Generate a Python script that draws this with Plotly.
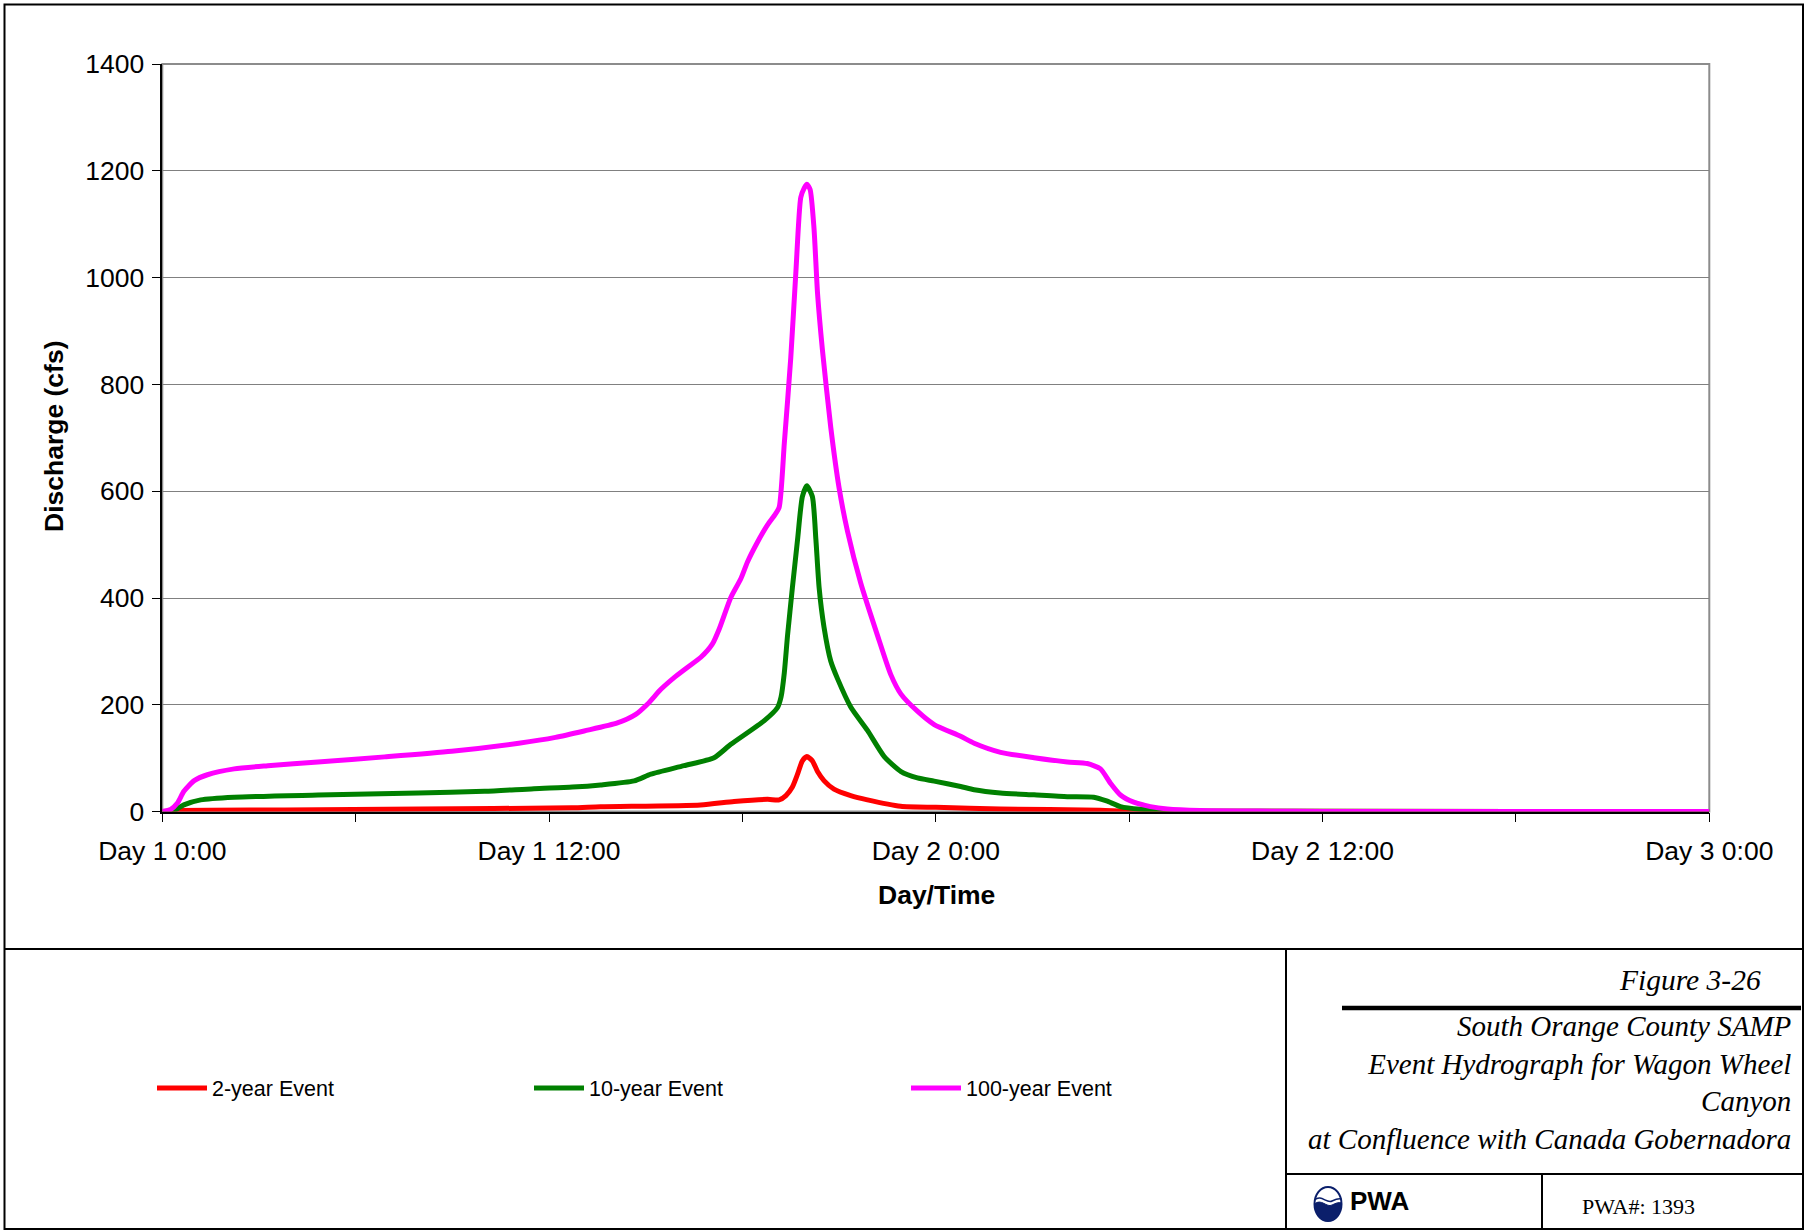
import plotly.graph_objects as go

# ---------------- data (hours from Day 1 0:00, discharge in cfs) ----------------
hours_2yr = [0, 0.5, 3.8, 8, 12.7, 13.6, 16.7, 17.74, 18.78, 19.14, 19.35, 19.55, 19.71,
             19.86, 20.0, 20.17, 20.33, 20.53, 20.84, 21.36, 21.88, 22.91, 24.0, 26.0,
             29.1, 30.1, 48]
flow_2yr = [0, 2, 3, 5, 7, 9, 12.5, 19, 23, 22, 30, 46, 70,
            95, 103, 95, 75, 58, 42, 30, 22, 10, 8, 5,
            2.5, 0.6, 0]

hours_10yr = [0, 0.36, 0.67, 1.19, 2.23, 4.83, 7.94, 10.0, 11.53, 12.72, 13.6, 14.64,
              15.16, 16.19, 17.12, 17.64, 18.67, 19.09, 19.2, 19.3, 19.4, 19.55, 19.71,
              19.86, 20.0, 20.17, 20.28, 20.38, 20.53, 20.74, 20.95, 21.36, 21.88, 22.4,
              22.92, 23.43, 23.95, 24.77, 25.19, 26.0, 27.05, 28.08, 28.9, 29.3, 29.73,
              30.35, 31.18, 31.7, 48]
flow_10yr = [0, 2, 12.6, 22, 27, 31, 35, 38, 43, 46, 50, 57.5,
             70, 86, 101, 126, 170, 195, 215, 260, 330, 419, 509,
             590, 610, 590, 509, 419, 346, 282, 249, 196, 152, 103,
             75, 63, 57, 47, 41, 35, 31.4, 28, 27, 20, 9.4,
             4.4, 2, 0.6, 0]

hours_100yr = [0, 0.26, 0.47, 0.67, 0.99, 1.4, 2.23, 3.27, 4.83, 6.9, 8.98, 11.06, 12.2,
               13.09, 14.12, 14.69, 15.05, 15.47, 15.88, 16.29, 16.71, 17.07, 17.28,
               17.64, 17.95, 18.16, 18.47, 18.78, 19.0, 19.14, 19.3, 19.5, 19.66, 19.81,
               19.92, 20.0, 20.1, 20.22, 20.33, 20.48, 20.74, 21.0, 21.26, 21.67, 22.19,
               22.6, 22.92, 23.43, 23.95, 24.77, 25.19, 26.01, 27.05, 28.08, 28.7, 29.11,
               29.42, 29.73, 30.14, 30.66, 31.18, 32.2, 34, 36, 48]
flow_100yr = [0, 4, 16, 38, 58, 69, 80, 86, 93, 102.5, 113, 128, 139,
              151, 166, 182, 201, 229, 251, 270, 289, 314, 342,
              401, 436, 468, 505, 537, 555, 570, 690, 850, 1012, 1150,
              1168, 1175, 1165, 1093, 971, 866, 720, 606, 525, 428, 330,
              257, 220, 188, 163, 141, 128, 111, 101, 93, 90, 80,
              53, 31, 17.6, 9.4, 5, 2, 1, 0.3, 0]

series_names = ["2-year Event", "10-year Event", "100-year Event"]
series_colors = ["#FF0000", "#008000", "#FF00FF"]

x_tick_hours = [0, 6, 12, 18, 24, 30, 36, 42, 48]
x_tick_labels = ["Day 1 0:00", "", "Day 1 12:00", "", "Day 2 0:00", "", "Day 2 12:00", "", "Day 3 0:00"]
y_tick_values = [0, 200, 400, 600, 800, 1000, 1200, 1400]

# ---------------- figure geometry helpers ----------------
W, H = 1805, 1231


def px(x):
    return x / W


def py(y):
    return 1 - y / H


fig = go.Figure()
for hrs, flw, name, col in zip([hours_2yr, hours_10yr, hours_100yr],
                               [flow_2yr, flow_10yr, flow_100yr],
                               series_names, series_colors):
    fig.add_trace(go.Scatter(x=hrs, y=flw, mode="lines", name=name,
                             line=dict(color=col, width=5, shape="spline", smoothing=0.6)))

SANS = "Liberation Sans, Arial, sans-serif"
SERIF = "Liberation Serif, Times New Roman, serif"

fig.update_layout(
    width=W, height=H, autosize=False,
    margin=dict(l=0, r=0, t=0, b=0, pad=0, autoexpand=False),
    paper_bgcolor="white", plot_bgcolor="white",
    font=dict(family=SANS, color="black"),
    xaxis=dict(domain=[px(162.3), px(1709.3)], range=[0, 48],
               tickmode="array", tickvals=x_tick_hours, ticktext=x_tick_labels,
               ticks="outside", ticklen=9, tickwidth=1, tickcolor="black",
               ticklabelstandoff=6,
               showline=True, linecolor="black", linewidth=1.5,
               showgrid=False, zeroline=False, automargin=False,
               tickfont=dict(family=SANS, size=26.5, color="black")),
    yaxis=dict(domain=[py(811.6), py(64)], range=[0, 1400],
               tickmode="array", tickvals=y_tick_values,
               ticks="outside", ticklen=9, tickwidth=1, tickcolor="black",
               ticklabelstandoff=2,
               showline=True, linecolor="black", linewidth=1.5,
               showgrid=True, gridcolor="#808080", gridwidth=1, zeroline=False,
               automargin=False,
               tickfont=dict(family=SANS, size=26.5, color="black")),
    showlegend=True,
    legend=dict(orientation="h", x=px(152), xanchor="left", y=py(1088), yanchor="middle",
                entrywidth=312, entrywidthmode="pixels",
                font=dict(family=SANS, size=21.5, color="black"),
                bgcolor="rgba(0,0,0,0)", borderwidth=0, itemwidth=50),
)

shapes = []
# plot area border (grey top/right)
shapes.append(dict(type="rect", xref="paper", yref="paper",
                   x0=px(162.3), x1=px(1709.3), y0=py(811.6), y1=py(64),
                   line=dict(color="#8c8c8c", width=2), layer="below"))
# outer frame
shapes.append(dict(type="rect", xref="paper", yref="paper",
                   x0=px(4.5), x1=px(1803), y0=py(1229), y1=py(4.5),
                   line=dict(color="black", width=2)))
# divider lines of the title block
for (x0, y0, x1, y1, w) in [(4.5, 949, 1803, 949, 2),
                            (1286, 949, 1286, 1229, 2),
                            (1286, 1174, 1803, 1174, 2),
                            (1542, 1174, 1542, 1229, 2),
                            (1342, 1008, 1801, 1008, 4.5)]:
    shapes.append(dict(type="line", xref="paper", yref="paper",
                       x0=px(x0), y0=py(y0), x1=px(x1), y1=py(y1),
                       line=dict(color="black", width=w)))

# PWA logo (ellipse with wave)
cx, cy, rx, ry = 1328, 1204, 13.5, 17
navy = "#0b1f6b"
shapes.append(dict(type="circle", xref="paper", yref="paper",
                   x0=px(cx - rx), x1=px(cx + rx), y0=py(cy + ry), y1=py(cy - ry),
                   line=dict(color=navy, width=2)))
k = 0.5523


def P(x, y):
    return f"{px(x):.6f},{py(y):.6f}"


path = (f"M{P(cx - rx, cy)} "
        f"C{P(cx - rx * 0.5, cy - 6)} {P(cx - rx * 0.1, cy + 4)} {P(cx + rx * 0.3, cy + 1)} "
        f"C{P(cx + rx * 0.6, cy - 1)} {P(cx + rx * 0.8, cy - 2)} {P(cx + rx, cy - 1)} "
        f"C{P(cx + rx, cy + k * ry)} {P(cx + k * rx, cy + ry)} {P(cx, cy + ry)} "
        f"C{P(cx - k * rx, cy + ry)} {P(cx - rx, cy + k * ry)} {P(cx - rx, cy)} Z")
shapes.append(dict(type="path", xref="paper", yref="paper", path=path,
                   fillcolor=navy, line=dict(color=navy, width=1)))
wave = (f"M{P(cx - rx, cy - 4)} "
        f"C{P(cx - rx * 0.5, cy - 10)} {P(cx - rx * 0.1, cy)} {P(cx + rx * 0.3, cy - 3)} "
        f"C{P(cx + rx * 0.6, cy - 5)} {P(cx + rx * 0.8, cy - 6)} {P(cx + rx, cy - 5)}")
shapes.append(dict(type="path", xref="paper", yref="paper", path=wave,
                   line=dict(color=navy, width=1.5)))
fig.update_layout(shapes=shapes)

annotations = [
    dict(text="<b>Discharge (cfs)</b>", x=px(54), y=py(437), textangle=-90,
         font=dict(family=SANS, size=26.5, color="black")),
    dict(text="<b>Day/Time</b>", x=px(936), y=py(895),
         font=dict(family=SANS, size=26.5, color="black")),
    dict(text="<i>Figure 3-26</i>", x=px(1763), xanchor="right", y=py(980),
         font=dict(family=SERIF, size=29.5, color="black")),
    dict(text="<i>South Orange County SAMP<br>Event Hydrograph for Wagon Wheel<br>Canyon<br>"
              "at Confluence with Canada Gobernadora</i>",
         x=px(1793), xanchor="right", align="right", y=py(1082),
         font=dict(family=SERIF, size=29, color="black")),
    dict(text="<b>PWA</b>", x=px(1348), xanchor="left", y=py(1201),
         font=dict(family=SANS, size=26, color="black")),
    dict(text="PWA#: 1393", x=px(1580), xanchor="left", y=py(1206),
         font=dict(family=SERIF, size=22, color="black")),
]
for a in annotations:
    a.update(xref="paper", yref="paper", showarrow=False)
    a.setdefault("xanchor", "center")
    a.setdefault("yanchor", "middle")
fig.update_layout(annotations=annotations)

fig.write_html("out.html", config={"displayModeBar": False},
               post_script="document.body.style.margin='0px';document.body.style.overflow='hidden';")
